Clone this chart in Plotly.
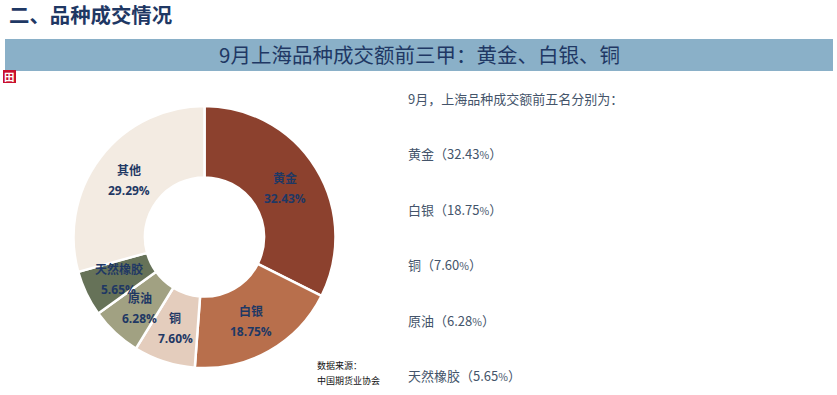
import math
import plotly.graph_objects as go

W, H = 837, 395
categories = ["黄金", "白银", "铜", "原油", "天然橡胶", "其他"]
values = [32.43, 18.75, 7.60, 6.28, 5.65, 29.29]
colors = ["#8C412E", "#B86F4C", "#E4CDBD", "#A1A182", "#667258", "#F3EBE2"]
heading = "二、品种成交情况"
banner = "9月上海品种成交额前三甲：黄金、白银、铜"
intro = "9月，上海品种成交额前五名分别为："
top_five = ["黄金", "白银", "铜", "原油", "天然橡胶"]
source_lines = ["数据来源：", "中国期货业协会"]

FONT = "Noto Sans CJK SC"
px = lambda x: x / W
py = lambda y: 1 - y / H
cx, cy, R = 204.5, 237, 131

fig = go.Figure(go.Pie(
    labels=categories, values=values, sort=False, direction="clockwise", rotation=0,
    hole=0.455, marker=dict(colors=colors, line=dict(color="#FFFFFF", width=2.5)),
    textinfo="none", hoverinfo="label+percent", showlegend=False,
    domain=dict(x=[px(cx - R), px(cx + R)], y=[py(cy + R), py(cy - R)]),
))

anns = []
def text(x, y, s, size, color, anchor="left", bold=False, family=FONT, **kw):
    s = f"<b>{s}</b>" if bold else s
    anns.append(dict(x=px(x), y=py(y), xref="paper", yref="paper", text=s, showarrow=False,
                     xanchor=anchor, yanchor="middle", font=dict(size=size, color=color, family=family),
                     borderpad=0, **kw))

text(7.5, 14.5, heading, 20.4, "#1F3864", bold=True)
text(419, 53.5, banner, 20.5, "#1F3864", anchor="center")
text(407, 98, intro, 13, "#44546A")
name_to_value = dict(zip(categories, values))
for y, name in zip([153, 209, 264, 320, 375], top_five):
    s = f"{name}（{name_to_value[name]:.2f}<span style='font-size:10.5px'>%</span>）"
    text(407, y, s, 13, "#44546A")
for y, s in zip([365, 380], source_lines):
    text(316, y, s, 9, "#111111")
text(9.5, 76.3, "田", 10.5, "#FFFFFF", anchor="center", bold=True)

# Slice labels sit at the middle of each ring sector, derived from the values
total = sum(values)
cum = 0
rmid = 95
for c, v in zip(categories, values):
    a = 2 * math.pi * (cum + v / 2) / total
    cum += v
    x, y = cx + rmid * math.sin(a), cy - rmid * math.cos(a)
    text(x, y - 9.5, c, 12, "#1F3864", anchor="center", bold=True, family="Noto Sans CJK SC")
    text(x, y + 11.5, f"{v:.2f}%", 12, "#1F3864", anchor="center", bold=True, family="Open Sans")

fig.update_layout(
    width=W, height=H, margin=dict(l=0, r=0, t=0, b=0), paper_bgcolor="#FFFFFF",
    annotations=anns,
    shapes=[
        dict(type="rect", xref="paper", yref="paper", x0=px(5), x1=px(833), y0=py(71), y1=py(39),
             fillcolor="#8AB0C8", line_width=0, layer="below"),
        dict(type="rect", xref="paper", yref="paper", x0=px(3), x1=px(16), y0=py(83), y1=py(70),
             fillcolor="#C8102E", line_width=0, layer="below"),
    ],
)
fig.write_html("out.html", config=dict(displayModeBar=False),
               post_script="document.body.style.margin='0';document.documentElement.style.overflow='hidden';")
